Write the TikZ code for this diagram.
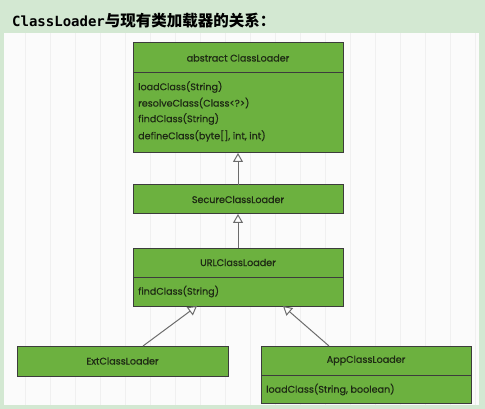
\documentclass[tikz,border=0pt]{standalone}
\usepackage{fontspec}
\setmainfont{Poppins}[FakeBold=0.6]
\newfontfamily\monob{DejaVu Sans Mono}
\newfontfamily\cjk{Noto Sans CJK SC}
\usetikzlibrary{arrows.meta}
\definecolor{frame}{HTML}{D3E8D2}
\definecolor{boxgreen}{HTML}{6CB13F}
\definecolor{boxline}{HTML}{3C3C3C}
\definecolor{gridc}{HTML}{F0F0F0}
\definecolor{txt}{HTML}{1E2A14}
\tikzset{
  cls/.style={draw=boxline, line width=1pt, fill=boxgreen},
  lbl/.style={font=\fontsize{9.6}{11}\selectfont, text=txt, inner sep=0pt},
  inh/.style={draw=gray!85!black, line width=1pt, -{Triangle[open, fill=white, length=9pt, width=10pt]}},
}
\begin{document}
\begin{tikzpicture}[x=1pt,y=-1pt]
\useasboundingbox (0,0) rectangle (485,409);
\fill[frame] (0,0) rectangle (485,409);
\fill[white!97!gray] (4,33) rectangle (479,405);
\begin{scope}
\clip (4,33) rectangle (479,405);
\draw[gridc, line width=0.6pt] (8,33) grid[step=25] (479,405);
\end{scope}
\node[anchor=west, inner sep=0pt] (title) at (12,21)
  {\fontsize{14}{16}\selectfont\monob\bfseries ClassLoader\fontsize{15.5}{16}\selectfont\cjk\bfseries 与现有类加载器的关系：};
% abstract ClassLoader
\draw[cls] (133,43) rectangle (343,153);
\draw[boxline, line width=1pt] (133,73) -- (343,73);
\coordinate (ab) at (238,153);
\node[lbl] (abn) at (238,58) {abstract ClassLoader};
\node[lbl, anchor=west] (m1) at (138,87) {loadClass(String)};
\node[lbl, anchor=west] (m2) at (138,103) {resolveClass(Class<?>)};
\node[lbl, anchor=west] (m3) at (138,119) {findClass(String)};
\node[lbl, anchor=west] (m4) at (138,136) {defineClass(byte[], int, int)};
% SecureClassLoader
\draw[cls] (133,185) rectangle (343,214);
\node[lbl] (sec) at (238,199.5) {SecureClassLoader};
\coordinate (sect) at (238,185);
\coordinate (secb) at (238,214);
% URLClassLoader
\draw[cls] (133,248) rectangle (343,306);
\draw[boxline, line width=1pt] (133,277) -- (343,277);
\node[lbl] (url) at (238,262.5) {URLClassLoader};
\node[lbl, anchor=west] (u1) at (138,291.5) {findClass(String)};
\coordinate (urlt) at (238,248);
\coordinate (urll) at (197,306);
\coordinate (urlr) at (283,306);
% ExtClassLoader
\draw[cls] (17,346) rectangle (228,376);
\node[lbl] (ext) at (122.5,361) {ExtClassLoader};
\coordinate (extt) at (143,346);
% AppClassLoader
\draw[cls] (261,346) rectangle (471,403);
\draw[boxline, line width=1pt] (261,375) -- (471,375);
\node[lbl] (app) at (366,360.5) {AppClassLoader};
\node[lbl, anchor=west] (a1) at (266,389.5) {loadClass(String, boolean)};
\coordinate (appt) at (329,346);
% inheritance arrows
\draw[inh] (sect) -- (ab);
\draw[inh] (urlt) -- (secb);
\draw[inh] (extt) -- (urll);
\draw[inh] (appt) -- (urlr);
\end{tikzpicture}
\end{document}
